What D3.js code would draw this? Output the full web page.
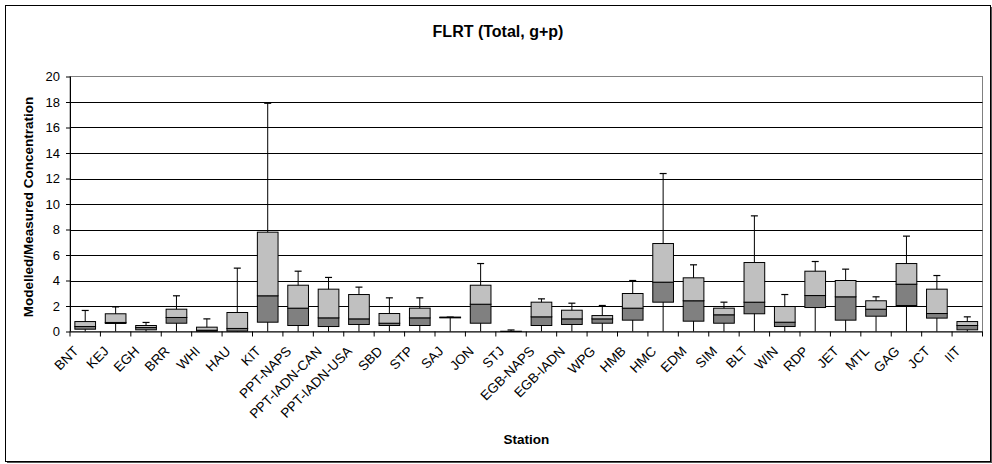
<!DOCTYPE html>
<html>
<head>
<meta charset="utf-8">
<script src="https://cdn.jsdelivr.net/npm/d3@7"></script>
<style>
  html, body { margin: 0; padding: 0; background: #fff; }
  svg { display: block; font-family: "Liberation Sans", Arial, sans-serif; }
</style>
</head>
<body>
<svg id="chart" width="992" height="464"></svg>
<script>
// Station names along the x axis
const stations = ["BNT", "KEJ", "EGH", "BRR", "WHI", "HAU", "KIT", "PPT-NAPS", "PPT-IADN-CAN",
  "PPT-IADN-USA", "SBD", "STP", "SAJ", "JON", "STJ", "EGB-NAPS", "EGB-IADN", "WPG", "HMB",
  "HMC", "EDM", "SIM", "BLT", "WIN", "RDP", "JET", "MTL", "GAG", "JCT", "IIT"];

// Box statistics of the modelled/measured ratio per station
const minVals = [0, 0, 0, 0, 0, 0, 0, 0, 0, 0, 0, 0, 0, 0, 0, 0, 0, 0, 0, 0, 0, 0, 0, 0, 0, 0, 0, 0, 0, 0];
const q1Vals  = [0.18, 0.63, 0.13, 0.65, 0.02, 0.03, 0.73, 0.47, 0.39, 0.55, 0.47, 0.47, 1.07, 0.65, 0.0,
  0.47, 0.55, 0.65, 0.89, 2.30, 0.81, 0.65, 1.39, 0.39, 1.88, 0.89, 1.20, 2.04, 1.05, 0.13];
const medVals = [0.39, 0.71, 0.31, 1.10, 0.10, 0.24, 2.80, 1.83, 1.07, 0.99, 0.65, 1.07, 1.10, 2.14, 0.0,
  1.15, 0.99, 0.99, 1.83, 3.87, 2.41, 1.31, 2.30, 0.73, 2.82, 2.72, 1.75, 3.71, 1.41, 0.47];
const q3Vals  = [0.78, 1.39, 0.47, 1.75, 0.34, 1.49, 7.79, 3.63, 3.32, 2.90, 1.41, 1.83, 1.13, 3.63, 0.02,
  2.30, 1.67, 1.25, 2.98, 6.90, 4.21, 1.83, 5.41, 1.96, 4.73, 4.00, 2.41, 5.33, 3.32, 0.78];
const maxVals = [1.65, 1.93, 0.71, 2.80, 0.99, 4.97, 17.9, 4.73, 4.24, 3.48, 2.64, 2.64, 1.13, 5.33, 0.12,
  2.56, 2.22, 2.04, 4.00, 12.39, 5.23, 2.30, 9.07, 2.90, 5.49, 4.89, 2.72, 7.48, 4.39, 1.15];

// Value axis ticks
const yTickValues = [0, 2, 4, 6, 8, 10, 12, 14, 16, 18, 20];

const titleText = "FLRT (Total, g+p)";
const yTitle = "Modelled/Measured Concentration";
const xTitle = "Station";

const svg = d3.select("#chart");
const plot = { left: 70, right: 982.5, top: 76.5, bottom: 331.5 };

const x = d3.scaleBand().domain(stations).range([plot.left, plot.right]).paddingInner(0).paddingOuter(0);
const y = d3.scaleLinear().domain([0, 20]).range([plot.bottom, plot.top]);

// Chart frame with a slight drop shadow
svg.append("rect").attr("x", 7).attr("y", 7).attr("width", 985).attr("height", 456).attr("fill", "#555");
svg.append("rect").attr("x", 5.5).attr("y", 5.5).attr("width", 985).attr("height", 456)
  .attr("fill", "#fff").attr("stroke", "#000").attr("stroke-width", 1);

// Plot area border
svg.append("rect").attr("x", plot.left).attr("y", plot.top)
  .attr("width", plot.right - plot.left).attr("height", plot.bottom - plot.top)
  .attr("fill", "#fff").attr("stroke", "#808080").attr("stroke-width", 1);

// Horizontal gridlines
svg.append("g").selectAll("line").data(yTickValues.filter(v => v > 0 && v < 20)).join("line")
  .attr("x1", plot.left).attr("x2", plot.right)
  .attr("y1", d => Math.round(y(d)) + 0.5).attr("y2", d => Math.round(y(d)) + 0.5)
  .attr("stroke", "#000").attr("stroke-width", 1);

// Y axis
const yAxis = d3.axisLeft(y).tickValues(yTickValues).tickSize(4).tickPadding(6).tickFormat(d3.format("d"));
const gy = svg.append("g").attr("transform", `translate(${plot.left},0)`).call(yAxis);
gy.select(".domain").remove();
gy.selectAll(".tick line").attr("stroke", "#000");
gy.selectAll(".tick text").attr("font-size", 13).attr("fill", "#000")
  .attr("font-family", "Liberation Sans, Arial, sans-serif");
svg.append("line").attr("x1", plot.left + 0.5).attr("x2", plot.left + 0.5)
  .attr("y1", plot.top).attr("y2", plot.bottom).attr("stroke", "#000");

// Boxes: whisker from min to max, dark lower box (Q1 to median), light upper box (median to Q3)
const boxW = x.bandwidth() * 0.68;
const capW = 7;
const boxes = svg.append("g").selectAll("g").data(stations).join("g")
  .attr("transform", d => `translate(${x(d) + x.bandwidth() / 2},0)`);

boxes.append("line")
  .attr("x1", 0).attr("x2", 0)
  .attr("y1", (d, i) => y(maxVals[i])).attr("y2", (d, i) => y(minVals[i]))
  .attr("stroke", "#000").attr("stroke-width", 1);
boxes.append("line")
  .attr("x1", -capW / 2).attr("x2", capW / 2)
  .attr("y1", (d, i) => y(maxVals[i])).attr("y2", (d, i) => y(maxVals[i]))
  .attr("stroke", "#000").attr("stroke-width", 1.2);
boxes.append("rect")
  .attr("x", -boxW / 2).attr("width", boxW)
  .attr("y", (d, i) => y(medVals[i])).attr("height", (d, i) => y(q1Vals[i]) - y(medVals[i]))
  .attr("fill", "#808080").attr("stroke", "#000").attr("stroke-width", 1);
boxes.append("rect")
  .attr("x", -boxW / 2).attr("width", boxW)
  .attr("y", (d, i) => y(q3Vals[i])).attr("height", (d, i) => y(medVals[i]) - y(q3Vals[i]))
  .attr("fill", "#c0c0c0").attr("stroke", "#000").attr("stroke-width", 1);

// X axis
svg.append("line").attr("x1", plot.left).attr("x2", plot.right)
  .attr("y1", plot.bottom + 0.5).attr("y2", plot.bottom + 0.5).attr("stroke", "#000");
svg.append("g").selectAll("line").data(stations.concat([null])).join("line")
  .attr("x1", (d, i) => plot.left + i * x.step()).attr("x2", (d, i) => plot.left + i * x.step())
  .attr("y1", plot.bottom).attr("y2", plot.bottom + 5).attr("stroke", "#000");
svg.append("g").selectAll("text").data(stations).join("text")
  .attr("transform", d => `translate(${x(d) + x.bandwidth() / 2 - 6},352) rotate(-45)`)
  .attr("text-anchor", "end").attr("font-size", 13.5).attr("fill", "#000")
  .text(d => d);

// Titles
svg.append("text").attr("x", 498).attr("y", 37).attr("text-anchor", "middle")
  .attr("font-size", 16).attr("font-weight", "bold").text(titleText);
svg.append("text").attr("transform", `translate(33,207) rotate(-90)`).attr("text-anchor", "middle")
  .attr("font-size", 13.5).attr("font-weight", "bold").text(yTitle);
svg.append("text").attr("x", (plot.left + plot.right) / 2).attr("y", 444).attr("text-anchor", "middle")
  .attr("font-size", 13.5).attr("font-weight", "bold").text(xTitle);
</script>
</body>
</html>
